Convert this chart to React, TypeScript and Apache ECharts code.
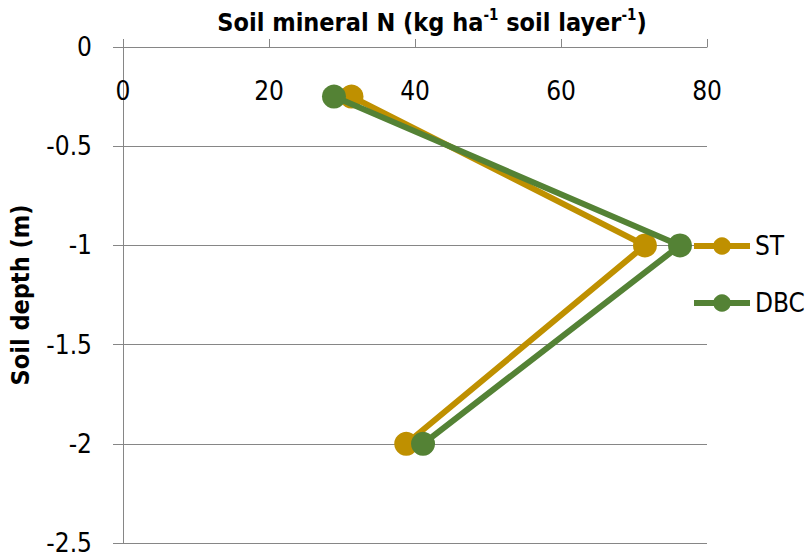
import React, { useEffect, useRef } from "react";
import * as echarts from "echarts";

const seriesNames = ["ST", "DBC"];
const depths = [-0.25, -1, -2];
const stValues = [31.3, 71.5, 38.8];
const dbcValues = [28.9, 76.3, 41.1];
const xTicks = [0, 20, 40, 60, 80];
const yTicks = [0, -0.5, -1, -1.5, -2, -2.5];

const FONT = "'Liberation Sans Narrow', 'DejaVu Sans Condensed', 'Liberation Sans', sans-serif";
const colors = ["#BF9000", "#548235"];

export default function App() {
  const ref = useRef<HTMLDivElement>(null);
  useEffect(() => {
    if (!ref.current) return;
    const chart = echarts.init(ref.current, null, { renderer: "svg" });
    const mk = (vals: number[]) => vals.map((v, i) => [v, depths[i]]);
    chart.setOption({
      animation: false,
      backgroundColor: "#ffffff",
      textStyle: { fontFamily: FONT },
      title: {
        text: "{b|Soil mineral N (kg ha}{s|-1}{b| soil layer}{s|-1}{b|)}",
        left: 427,
        textAlign: "center",
        top: 2,
        textStyle: {
          rich: {
            b: { fontFamily: FONT, fontWeight: "bold", fontSize: 25, color: "#000", lineHeight: 30 },
            s: { fontFamily: FONT, fontWeight: "bold", fontSize: 15, color: "#000", verticalAlign: "top", lineHeight: 30, padding: [0, 0, 10, 0] },
          },
        },
      },
      legend: {
        orient: "vertical",
        left: 686,
        top: 228,
        itemGap: 31,
        itemWidth: 56,
        itemHeight: 22,
        data: seriesNames,
        lineStyle: { width: 6 },
        textStyle: { fontFamily: FONT, fontSize: 26, color: "#000" },
      },
      grid: { left: 123, top: 47, right: 99, bottom: 17, containLabel: false },
      xAxis: {
        type: "value",
        position: "top",
        min: xTicks[0],
        max: xTicks[xTicks.length - 1],
        interval: 20,
        axisLine: { show: true, onZero: false, lineStyle: { color: "#868686", width: 1 } },
        axisTick: { show: true, length: 8, lineStyle: { color: "#868686" } },
        splitLine: { show: false },
        axisLabel: { inside: true, margin: 31, fontSize: 26, color: "#000", fontFamily: FONT },
      },
      yAxis: {
        type: "value",
        min: yTicks[yTicks.length - 1],
        max: yTicks[0],
        interval: 0.5,
        name: "Soil depth (m)",
        nameLocation: "middle",
        nameGap: 90,
        nameTextStyle: { fontFamily: FONT, fontWeight: "bold", fontSize: 25, color: "#000" },
        axisLine: { show: true, onZero: false, lineStyle: { color: "#868686", width: 1 } },
        axisTick: { show: true, length: 10, lineStyle: { color: "#868686" } },
        splitLine: { show: true, lineStyle: { color: "#868686", width: 1 } },
        axisLabel: { margin: 31, fontSize: 26, color: "#000", fontFamily: FONT },
      },
      series: [
        {
          name: seriesNames[0],
          type: "line",
          data: mk(stValues),
          symbol: "circle",
          symbolSize: 24,
          itemStyle: { color: colors[0] },
          lineStyle: { color: colors[0], width: 6 },
          z: 2,
        },
        {
          name: seriesNames[1],
          type: "line",
          data: mk(dbcValues),
          symbol: "circle",
          symbolSize: 24,
          itemStyle: { color: colors[1] },
          lineStyle: { color: colors[1], width: 6 },
          z: 3,
        },
      ],
    });
    return () => chart.dispose();
  }, []);
  return <div ref={ref} style={{ width: 806, height: 560, position: "absolute", left: 0, top: 0 }} />;
}
